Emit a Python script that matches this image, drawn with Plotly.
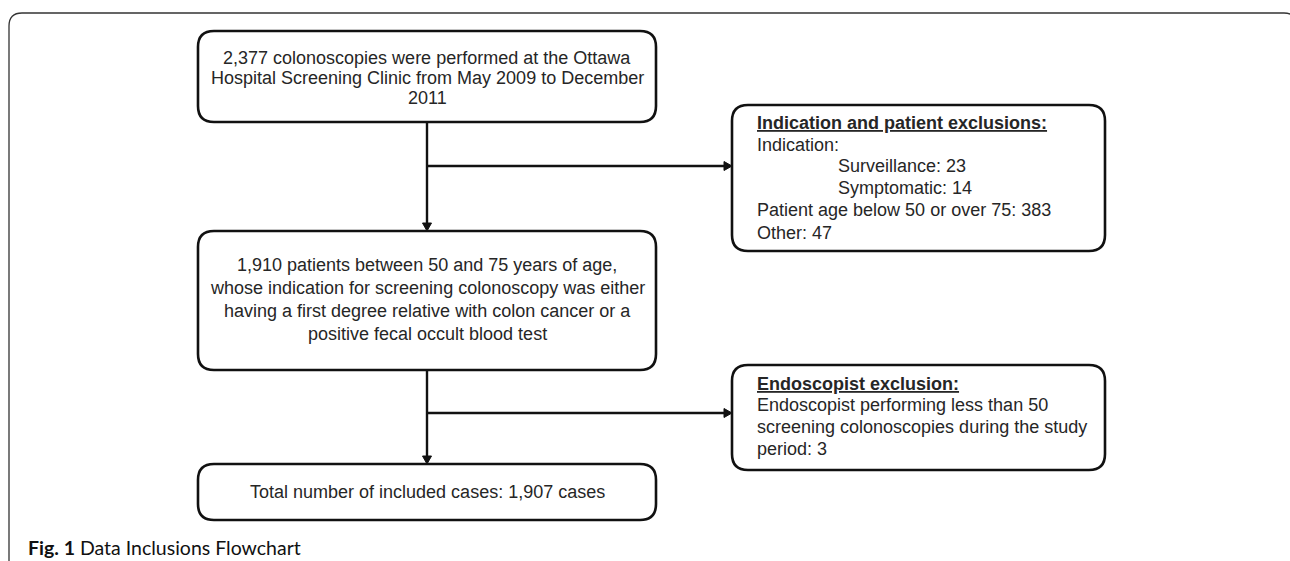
import plotly.graph_objects as go

# ---- data (counts shown in the flowchart) ----
total_performed = 2377
eligible = 1910
included = 1907
surveillance = 23
symptomatic = 14
age_excluded = 383
other_excluded = 47
endoscopist_excluded = 3

box1_lines = [f"{total_performed:,} colonoscopies were performed at the Ottawa",
              "Hospital Screening Clinic from May 2009 to December",
              "2011"]
box3_lines = [f"{eligible:,} patients between 50 and 75 years of age,",
              "whose indication for screening colonoscopy was either",
              "having a first degree relative with colon cancer or a",
              "positive fecal occult blood test"]
box2_lines = ["<b><u>Indication and patient exclusions:</u></b>",
              "Indication:",
              f"Surveillance: {surveillance}",
              f"Symptomatic: {symptomatic}",
              f"Patient age below 50 or over 75: {age_excluded}",
              f"Other: {other_excluded}"]
box2_indent = [0, 0, 1, 1, 0, 0]
box4_lines = ["<b><u>Endoscopist exclusion:</u></b>",
              "Endoscopist performing less than 50",
              "screening colonoscopies during the study",
              f"period: {endoscopist_excluded}"]
box5_text = f"Total number of included cases: {included:,} cases"
caption = "<b>Fig. 1</b> Data Inclusions Flowchart"

# ---- layout (pixel coordinates) ----
W, H = 1290, 561
B1 = (198, 31, 656, 122)
B2 = (732, 105, 1105, 251)
B3 = (198, 231, 656, 370)
B4 = (732, 365, 1105, 470)
B5 = (198, 464, 656, 520)
XC = 427
TXT = "#262626"
FONT = "Liberation Sans, Arial, sans-serif"


def rrect(x0, y0, x1, y1, r):
    return (f"M{x0+r},{y0} L{x1-r},{y0} Q{x1},{y0} {x1},{y0+r} "
            f"L{x1},{y1-r} Q{x1},{y1} {x1-r},{y1} L{x0+r},{y1} "
            f"Q{x0},{y1} {x0},{y1-r} L{x0},{y0+r} Q{x0},{y0} {x0+r},{y0} Z")


shapes = []
# outer frame
shapes.append(dict(type="path", path=rrect(9, 13, 1297, 640, 13),
                   line=dict(color="#333333", width=1.3), layer="below"))
for b in (B1, B2, B3, B4, B5):
    shapes.append(dict(type="path", path=rrect(*b, 16),
                       line=dict(color="#111111", width=2.6)))


def seg(x0, y0, x1, y1):
    shapes.append(dict(type="line", x0=x0, y0=y0, x1=x1, y1=y1,
                       line=dict(color="#111111", width=2.4)))


def head(x, y, direction):
    L, w = 8, 4.5
    if direction == "down":
        p = f"M{x},{y} L{x-w},{y-L} L{x+w},{y-L} Z"
    else:
        p = f"M{x},{y} L{x-L},{y-w} L{x-L},{y+w} Z"
    shapes.append(dict(type="path", path=p, fillcolor="#111111",
                       line=dict(color="#111111", width=1)))


seg(XC, B1[3], XC, B3[1] - 6); head(XC, B3[1], "down")
seg(XC, B3[3], XC, B5[1] - 6); head(XC, B5[1], "down")
seg(XC, 166, B2[0] - 6, 166); head(B2[0], 166, "right")
seg(XC, 413, B4[0] - 6, 413); head(B4[0], 413, "right")

ann = []


def text(x, y, s, size=18, anchor="center", family=FONT, color=TXT):
    ann.append(dict(x=x, y=y, xref="x", yref="y", text=s, showarrow=False,
                    xanchor=anchor, yanchor="middle",
                    font=dict(family=family, size=size, color=color)))


for s, y in zip(box1_lines, [58, 78, 98]):
    text(XC, y, s)
for s, y in zip(box3_lines, [265, 288, 311, 334]):
    text(XC, y, s)
for s, ind, y in zip(box2_lines, box2_indent, [123, 145, 166, 188, 210, 233]):
    text(755 + 81 * ind, y, s, anchor="left")
for s, y in zip(box4_lines, [384, 405, 427, 449]):
    text(755, y, s, anchor="left")
text(XC, 492, box5_text)
text(26, 547, caption, size=19.5, anchor="left", family="Lato, Open Sans, sans-serif", color="#111111")

fig = go.Figure()
fig.update_layout(width=W, height=H, margin=dict(l=0, r=0, t=0, b=0),
                  paper_bgcolor="white", plot_bgcolor="white",
                  shapes=shapes, annotations=ann, showlegend=False)
fig.update_xaxes(range=[0, W], visible=False, fixedrange=True)
fig.update_yaxes(range=[H, 0], visible=False, fixedrange=True)
fig.write_html("out.html", config={"displayModeBar": False},
               post_script="document.body.style.margin='0';document.body.style.overflow='hidden';")
